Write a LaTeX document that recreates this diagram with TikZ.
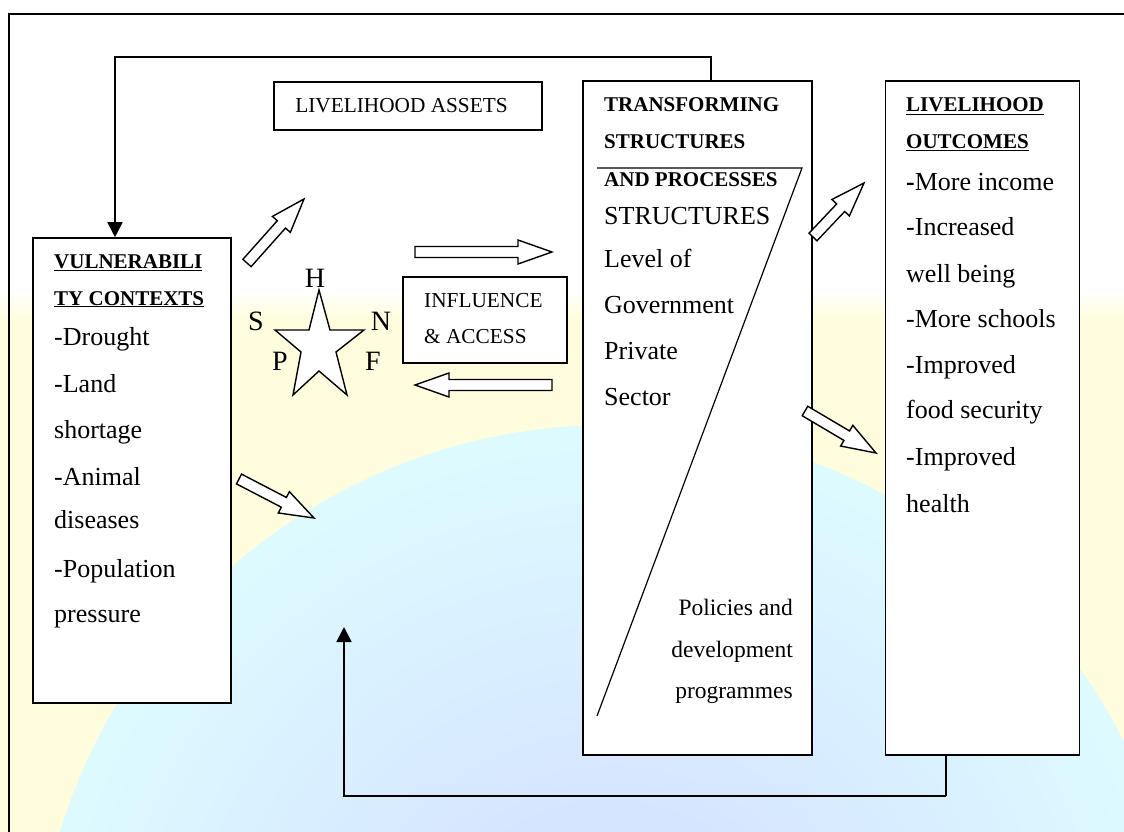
\documentclass[tikz,border=0pt]{standalone}
\usepackage{fontspec}
\setmainfont{Liberation Serif}
\usetikzlibrary{calc,arrows.meta}
\definecolor{bgyellow}{HTML}{FFFDDE}
\definecolor{globein}{HTML}{D2DAFF}
\definecolor{globeout}{HTML}{DDFBFF}
\tikzset{
  box/.style={draw, line width=1.6pt, fill=white, inner sep=0pt},
  txt/.style={anchor=base west, inner sep=0pt, font=\fontsize{26}{30}\selectfont},
  hd/.style={anchor=base west, inner sep=0pt, font=\fontsize{21}{25}\selectfont\bfseries},
  small/.style={anchor=base west, inner sep=0pt, font=\fontsize{21.3}{25}\selectfont},
  pol/.style={anchor=base east, inner sep=0pt, font=\fontsize{23.5}{27}\selectfont},
  letter/.style={inner sep=0pt, font=\fontsize{28}{32}\selectfont},
  fb/.style={line width=1.8pt, -{Triangle[width=15pt,length=15pt]}},
  blk/.style={draw, line width=1.4pt, fill=white, line join=miter},
  thinline/.style={line width=1.2pt}
}
\newcommand\hollowarrow[2]{%
  \coordinate (hb) at ($(#2)!34pt!(#1)$);
  \draw[blk] ($(#1)!5.5pt!90:(#2)$) -- ($(hb)!5.5pt!90:(#2)$) -- ($(hb)!12pt!90:(#2)$) -- (#2)
    -- ($(hb)!12pt!-90:(#2)$) -- ($(hb)!5.5pt!-90:(#2)$) -- ($(#1)!5.5pt!-90:(#2)$) -- cycle;}
\begin{document}
\begin{tikzpicture}[x=1pt,y=-1pt]
\useasboundingbox (0,0) rectangle (1124,832);
% background watermark
\begin{scope}
  \clip (0,0) rectangle (1124,832);
  \fill[bgyellow] (0,315) rectangle (1124,832);
  \shade[top color=white, bottom color=bgyellow] (0,290) rectangle (1124,318);
  \shade[inner color=globein, outer color=globeout] (610,1000) circle (575);
\end{scope}
% outer frame
\draw[line width=1.8pt] (9,832) -- (9,14) -- (1124,14);

% boxes
\node[box, minimum width=268pt, minimum height=48pt] (assets) at (408,106) {};
\node[inner sep=0pt, font=\fontsize{21.3}{25}\selectfont] (assetslbl) at (401.5,106) {LIVELIHOOD ASSETS};
\node[box, minimum width=198pt, minimum height=465pt] (vul) at (132,470.5) {};
\node[box, minimum width=229pt, minimum height=674pt] (trans) at (697.5,418) {};
\node[box, minimum width=194pt, minimum height=674pt] (out) at (982.5,418) {};
\node[box, minimum width=164pt, minimum height=86pt] (infl) at (485,320) {};

% vulnerability texts
\node[hd] (v1) at (54,268) {\underline{VULNERABILI}};
\node[hd] (v2) at (54,305) {\underline{TY CONTEXTS}};
\node[txt] (v3) at (54,345) {-Drought};
\node[txt] (v4) at (54,392) {-Land};
\node[txt] (v5) at (54,438) {shortage};
\node[txt] (v6) at (54,485) {-Animal};
\node[txt] (v7) at (54,528) {diseases};
\node[txt] (v8) at (54,577) {-Population};
\node[txt] (v9) at (54,622) {pressure};

% transforming texts
\draw[thinline] (597,168) -- (802,168) -- (597,716);
\node[hd] (t1) at (604,112) {TRANSFORMING};
\node[hd] (t2) at (604,149) {STRUCTURES};
\node[hd] (t3) at (604,186) {AND PROCESSES};
\node[txt] (t4) at (604,224) {STRUCTURES};
\node[txt] (t5) at (604,267) {Level of};
\node[txt] (t6) at (604,313) {Government};
\node[txt] (t7) at (604,359) {Private};
\node[txt] (t8) at (604,405) {Sector};
\node[pol] (p1) at (793,615) {Policies and};
\node[pol] (p2) at (793,657) {development};
\node[pol] (p3) at (793,698) {programmes};

% outcomes texts
\node[hd] (o1) at (906,112) {\underline{LIVELIHOOD}};
\node[hd] (o2) at (906,149) {\underline{OUTCOMES}};
\node[txt] (o3) at (906,190) {\textbf{-}More income};
\node[txt] (o4) at (906,235) {-Increased};
\node[txt] (o5) at (906,282) {well being};
\node[txt] (o6) at (906,327) {-More schools};
\node[txt] (o7) at (906,373) {-Improved};
\node[txt] (o8) at (906,418) {food security};
\node[txt] (o9) at (906,465) {-Improved};
\node[txt] (o10) at (906,512) {health};

% influence texts
\node[small] (i1) at (424,307) {INFLUENCE};
\node[small] (i2) at (424,343) {\& ACCESS};

% star
\draw[line width=1.4pt, fill=white, line join=miter]
  (319,290) -- (330,330) -- (364,330) -- (336,352) -- (347,395) -- (319,371)
  -- (293,395) -- (301,352) -- (275,330) -- (309,330) -- cycle;
\node[letter] (H) at (315,278) {H};
\node[letter] (S) at (256,321) {S};
\node[letter] (N) at (381,321) {N};
\node[letter] (P) at (280,361) {P};
\node[letter] (F) at (373,361) {F};

% feedback connectors
\coordinate (tl) at (115,57);
\coordinate (tr) at (711,57);
\draw[fb] (trans.north -| tr) -- (tr) -- (tl) -- (vul.north -| tl);
\coordinate (bl) at (344,796);
\coordinate (br) at (946,796);
\coordinate (btip) at (344,627);
\draw[line width=1.2pt] (out.south -| br) -- (br);
\draw[fb] (br) -- (bl) -- (btip);

% hollow block arrows
\coordinate (a1s) at (247,263); \coordinate (a1e) at (304,199);
\coordinate (a2s) at (415,252); \coordinate (a2e) at (552,252);
\coordinate (a3s) at (552,385); \coordinate (a3e) at (415,385);
\coordinate (a4s) at (239,479); \coordinate (a4e) at (314,518);
\coordinate (a5s) at (813,237); \coordinate (a5e) at (864,183);
\coordinate (a6s) at (805,411); \coordinate (a6e) at (876,453);
\hollowarrow{a1s}{a1e}
\hollowarrow{a2s}{a2e}
\hollowarrow{a3s}{a3e}
\hollowarrow{a4s}{a4e}
\hollowarrow{a5s}{a5e}
\hollowarrow{a6s}{a6e}
\end{tikzpicture}
\end{document}
